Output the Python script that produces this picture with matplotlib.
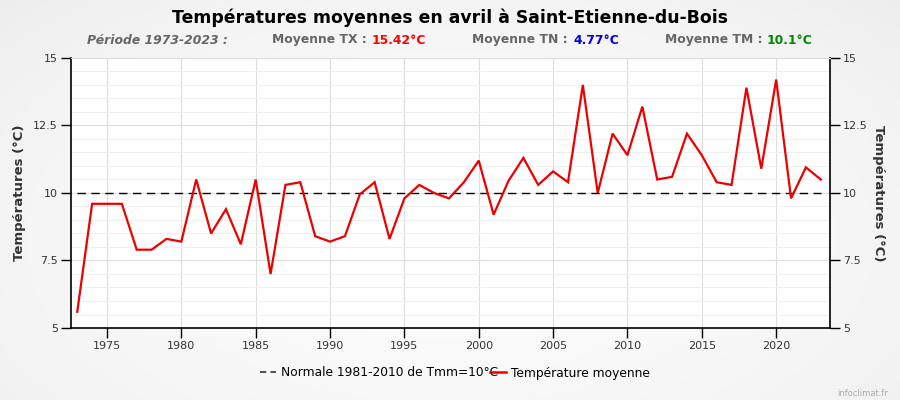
import matplotlib
matplotlib.use("Agg")
import matplotlib.pyplot as plt
import numpy as np
from matplotlib.ticker import MultipleLocator, FixedLocator
from matplotlib.lines import Line2D

years = list(range(1973, 2024))
tmoy = [5.6, 9.6, 9.6, 9.6, 7.9, 7.9, 8.3, 8.2, 10.5, 8.5,
        9.4, 8.1, 10.5, 7.0, 10.3, 10.4, 8.4, 8.2, 8.4, 9.95,
        10.4, 8.3, 9.8, 10.3, 10.0, 9.8, 10.4, 11.2, 9.2, 10.45,
        11.3, 10.3, 10.8, 10.4, 14.0, 10.0, 12.2, 11.4, 13.2, 10.5,
        10.6, 12.2, 11.4, 10.4, 10.3, 13.9, 10.9, 14.2, 9.8, 10.95,
        10.5]
normale = 10.0
yticks = [5, 7.5, 10, 12.5, 15]
ytick_labels = ["5", "7.5", "10", "12.5", "15"]
xticks = [1975, 1980, 1985, 1990, 1995, 2000, 2005, 2010, 2015, 2020]

title = "Températures moyennes en avril à Saint-Etienne-du-Bois"
periode = "Période 1973-2023 :"
stats_labels = ["Moyenne TX : ", "Moyenne TN : ", "Moyenne TM : "]
stats_values = ["15.42°C", "4.77°C", "10.1°C"]
stats_colors = ["#ff0000", "#0000ee", "#008800"]

W, H = 900, 400
fig = plt.figure(figsize=(9, 4), dpi=100)

# background gradient
bg = fig.add_axes([0, 0, 1, 1], zorder=-10)
xx = np.linspace(-1, 1, 200)
yy = np.linspace(-1, 1, 100)
X, Y = np.meshgrid(xx, yy)
g = 0.985 - 0.045 * (0.6 * X**2 + 0.4 * (Y + 0.2)**2)
bg.imshow(np.dstack([g, g, g]), extent=[0, 1, 0, 1], aspect="auto", origin="lower")
bg.set_axis_off()

left, right, top, bottom = 71, 830, 58, 328
ax = fig.add_axes([left / W, 1 - bottom / H, (right - left) / W, (bottom - top) / H])
ax.set_facecolor("white")

ax.plot(years, tmoy, color="#ee0000", lw=1.6, zorder=4, solid_joinstyle="miter")
ax.plot([years[0], years[-1]], [normale, normale], color="black", lw=1.0,
        dashes=(6, 4), zorder=3)

ax.set_xlim(1972.58, 2023.62)
ax.set_ylim(5, 15)
ax.xaxis.set_major_locator(FixedLocator(xticks))
ax.yaxis.set_major_locator(FixedLocator(yticks))
ax.yaxis.set_minor_locator(MultipleLocator(0.5))
ax.set_yticklabels(ytick_labels)
ax.grid(True, which="major", axis="both", color="#dddddd", lw=0.8, zorder=0)
ax.grid(True, which="minor", axis="y", color="#f0f0f0", lw=0.8, zorder=0)
ax.tick_params(axis="y", which="minor", length=0)
ax.tick_params(axis="both", which="major", direction="out", length=7.5, width=1,
               labelsize=8, color="black", labelcolor="#333333", pad=2)
ax.tick_params(axis="y", which="major", left=True, right=True,
               labelleft=True, labelright=True)
for s in ["left", "bottom", "right"]:
    ax.spines[s].set_color("black")
    ax.spines[s].set_linewidth(1.2)
ax.spines["top"].set_color("#dddddd")
ax.set_axisbelow(True)

fig.text(20 / W, 1 - 193 / H, "Températures (°C)", ha="center", va="center",
         rotation=90, fontsize=9.5, fontweight="bold", color="#333333")
fig.text(878 / W, 1 - 193 / H, "Températures (°C)", ha="center", va="center",
         rotation=270, fontsize=9.5, fontweight="bold", color="#333333")

fig.text(450 / W, 1 - 18 / H, title, ha="center", va="center",
         fontsize=12.4, fontweight="bold", color="black")
sy = 1 - 40 / H
fig.text(87 / W, sy, periode, ha="left", va="center", fontsize=8.9,
         fontweight="bold", fontstyle="italic", color="#666666")
lab_x = [272, 472, 665]
val_x = [372, 573, 767]
for lx, vx, l, v, c in zip(lab_x, val_x, stats_labels, stats_values, stats_colors):
    fig.text(lx / W, sy, l, ha="left", va="center", fontsize=8.9,
             fontweight="bold", color="#666666")
    fig.text(vx / W, sy, v, ha="left", va="center", fontsize=8.9,
             fontweight="bold", color=c)

handles = [Line2D([], [], color="#555555", lw=1.5, dashes=(3, 2)),
           Line2D([], [], color="#ee0000", lw=1.8)]
fig.legend(handles, ["Normale 1981-2010 de Tmm=10°C", "Température moyenne"],
           loc="center", bbox_to_anchor=(455 / W, 1 - 373 / H), ncol=2,
           frameon=False, fontsize=8.8, handlelength=1.3, handletextpad=0.4,
           columnspacing=-0.6)

fig.text(888 / W, 1 - 393 / H, "infoclimat.fr", ha="right", va="center",
         fontsize=6, color="#aaaaaa")

fig.savefig("out.png", dpi=100)
